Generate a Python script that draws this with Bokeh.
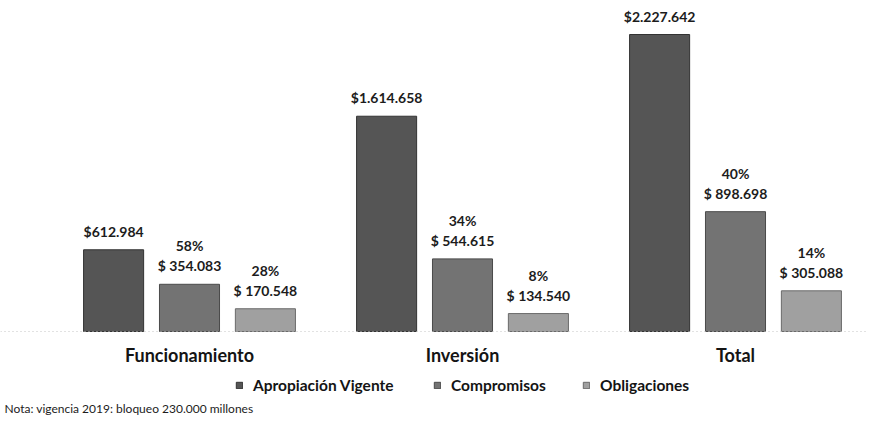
from bokeh.plotting import figure
from bokeh.models import ColumnDataSource, Legend, LegendItem, Range1d, Span, Label
from bokeh.core.properties import value
from bokeh.embed import file_html
from bokeh.resources import INLINE

categories = ["Funcionamiento", "Inversión", "Total"]
apropiacion = [612984, 1614658, 2227642]
compromisos = [354083, 544615, 898698]
obligaciones = [170548, 134540, 305088]
comp_pct = ["58%", "34%", "40%"]
oblig_pct = ["28%", "8%", "14%"]
series_names = ["Apropiación Vigente", "Compromisos", "Obligaciones"]
note = "Nota: vigencia 2019: bloqueo 230.000 millones"

colors = ["#555555", "#737373", "#a0a0a0"]
edges = ["#333333", "#4a4a4a", "#6a6a6a"]
FONT = "Lato"
TXT = "#1c1c1c"


def money(v, space):
    s = f"{v:,}".replace(",", ".")
    return ("$ " if space else "$") + s


idx = list(range(len(categories)))
offsets = [-0.278, 0.0, 0.278]
width = 0.22
upp = 7500.5  # value units per pixel
W, H = 868, 419
x0 = -189 / 273

p = figure(width=W, height=H, output_backend="svg", toolbar_location=None,
           x_range=Range1d(x0, x0 + W / 273), y_range=Range1d(-(H - 331) * upp, 331 * upp),
           min_border_left=0, min_border_right=0, min_border_top=0, min_border_bottom=0,
           x_axis_location=None, y_axis_location=None)
p.outline_line_color = None
p.xgrid.visible = False
p.ygrid.visible = False

p.add_layout(Span(location=0, dimension="width", line_color="#c4c4c4",
                  line_dash="1 3", line_width=1))

renderers = []
for k, (vals, col) in enumerate(zip([apropiacion, compromisos, obligaciones], colors)):
    src = ColumnDataSource(dict(
        x=[i + offsets[k] for i in idx],
        top=vals,
        val=[money(v, k > 0) for v in vals],
        pct=[""] * 3 if k == 0 else (comp_pct if k == 1 else oblig_pct),
    ))
    r = p.vbar(x="x", top="top", width=width, bottom=0, source=src,
               fill_color=col, line_color=edges[k], line_width=1)
    renderers.append(r)
    p.text(x="x", y="top", text="val", source=src, text_align="center",
           text_baseline="bottom", y_offset=-10, text_font=value(FONT),
           text_font_size="14px", text_font_style="bold", text_color=TXT)
    if k > 0:
        p.text(x="x", y="top", text="pct", source=src, text_align="center",
               text_baseline="bottom", y_offset=-30, text_font=value(FONT),
               text_font_size="14px", text_font_style="bold", text_color=TXT)

cat_src = ColumnDataSource(dict(x=idx, y=[-23 * upp] * len(idx), t=categories))
p.text(x="x", y="y", text="t", source=cat_src, text_align="center",
       text_baseline="middle", text_font=value(FONT), text_font_size="18px",
       text_font_style="bold", text_color="#141414")

legend_x = [235, 433, 582]
for n, r, lx in zip(series_names, renderers, legend_x):
    lg = Legend(items=[LegendItem(label=n, renderers=[r])],
                orientation="horizontal", location=(lx, 25),
                glyph_width=8, glyph_height=8, label_standoff=10,
                label_text_font=FONT, label_text_font_size="15.5px",
                label_text_font_style="bold", label_text_color="#141414",
                border_line_color=None, background_fill_alpha=0, padding=0, margin=0)
    p.add_layout(lg)

p.add_layout(Label(x=4, y=H - 408, x_units="screen", y_units="screen", text=note,
                   text_font=FONT, text_font_size="12px", text_baseline="middle",
                   text_color=TXT))

open("out.html", "w").write(file_html(p, INLINE))
